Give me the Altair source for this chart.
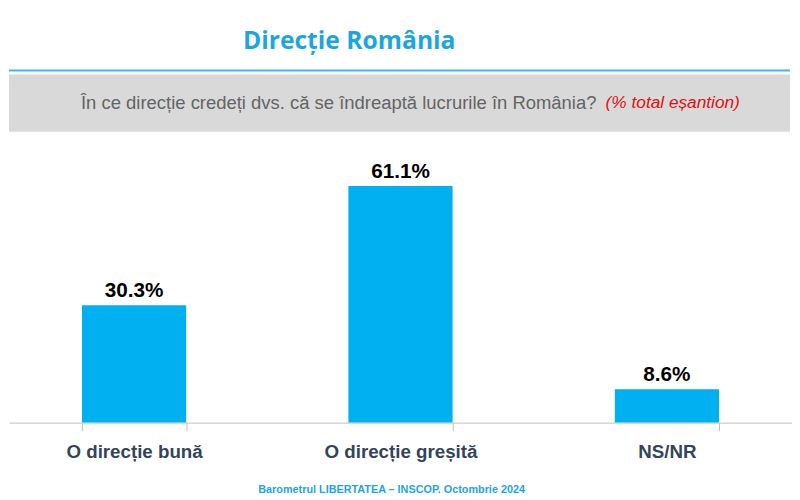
import altair as alt
import pandas as pd

categories = ["O direcție bună", "O direcție greșită", "NS/NR"]
values = [30.3, 61.1, 8.6]
labels = ["30.3%", "61.1%", "8.6%"]

title_text = "Direcție România"
question_text = "În ce direcție credeți dvs. că se îndreaptă lucrurile în România?"
note_text = "(% total eșantion)"
footer_text = "Barometrul LIBERTATEA – INSCOP. Octombrie 2024"

df = pd.DataFrame({"cat": categories, "val": values, "lab": labels})
one = pd.DataFrame({"k": [0]})

W, H = 794, 417

xenc = alt.X("cat:N", sort=categories, title=None,
             scale=alt.Scale(paddingInner=0.609, paddingOuter=0.274),
             axis=alt.Axis(labelAngle=0, labelFontSize=19, labelFontWeight="bold",
                           labelColor="#34445a", labelFont="Liberation Sans",
                           labelPadding=12, tickBand="extent", tickSize=8,
                           tickColor="#bfbfbf", domainColor="#bfbfbf", grid=False))
yenc = alt.Y("val:Q", axis=None, scale=alt.Scale(domain=[0, 106.2], nice=False, zero=True))

bars = alt.Chart(df).mark_bar(color="#00B0F0").encode(x=xenc, y=yenc)
text = alt.Chart(df).mark_text(baseline="bottom", dy=-4, fontSize=21, fontWeight="bold",
                               color="#000000", font="Liberation Sans").encode(
    x=alt.X("cat:N", sort=categories), y="val:Q", text="lab:N")

band = alt.Chart(one).mark_rect(color="#d9d9d9").encode(
    x=alt.value(0), x2=alt.value(792), y=alt.value(64), y2=alt.value(122))
line = alt.Chart(one).mark_rule(color="#45b5e6", strokeWidth=2).encode(
    x=alt.value(0), x2=alt.value(792), y=alt.value(60))
title = alt.Chart(one).mark_text(text=title_text, fontSize=25, fontWeight="bold",
                                 color="#1ca6df", font="Open Sans", align="center",
                                 baseline="middle").encode(x=alt.value(345), y=alt.value(30))
question = alt.Chart(one).mark_text(text=question_text, fontSize=18.7, color="#646464",
                                    font="Liberation Sans", align="left",
                                    baseline="middle").encode(x=alt.value(73), y=alt.value(93))
note = alt.Chart(one).mark_text(text=note_text, fontSize=17.5, fontStyle="italic", color="#e01010",
                                font="Liberation Sans", align="left",
                                baseline="middle").encode(x=alt.value(605), y=alt.value(93))
footer = alt.Chart(one).mark_text(text=footer_text, fontSize=11, fontWeight="bold",
                                  color="#1ca6df", font="Liberation Sans", align="center",
                                  baseline="middle").encode(x=alt.value(388), y=alt.value(485))

chart = alt.layer(band, line, title, question, note, footer, bars, text).properties(
    width=W, height=H, padding=0
).configure_view(stroke=None)

chart.save("out.html", embed_options={"renderer": "svg", "actions": False})
